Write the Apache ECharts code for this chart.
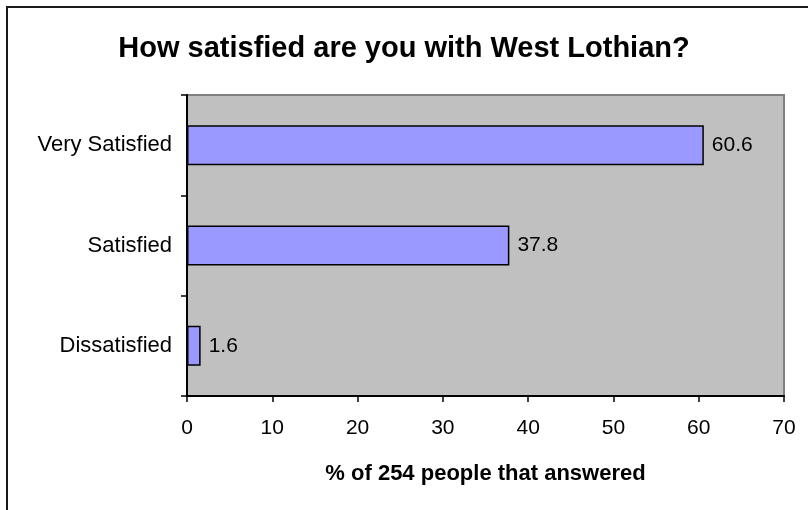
<!DOCTYPE html>
<html>
<head>
<meta charset="utf-8">
<script src="https://cdn.jsdelivr.net/npm/echarts@6/dist/echarts.min.js"></script>
<style>
  html, body { margin: 0; padding: 0; background: #fff; }
  #chart { width: 808px; height: 510px; }
</style>
</head>
<body>
<div id="chart"></div>
<script>
// Survey responses, listed top to bottom as shown on the chart
const categories = ['Very Satisfied', 'Satisfied', 'Dissatisfied'];
const percentages = [60.6, 37.8, 1.6];
const xTicks = { min: 0, max: 70, step: 10 };

const chart = echarts.init(document.getElementById('chart'), null, { renderer: 'canvas' });
const FONT = '"Liberation Sans", Arial, sans-serif';

chart.setOption({
  backgroundColor: '#ffffff',
  animation: false,
  title: {
    text: 'How satisfied are you with West Lothian?',
    left: 'center',
    top: 34,
    padding: 0,
    textStyle: { fontFamily: FONT, fontSize: 29, fontWeight: 'bold', color: '#000' }
  },
  graphic: [{
    type: 'rect',
    silent: true,
    shape: { x: 7, y: 7, width: 900, height: 600 },
    style: { fill: 'none', stroke: '#1a1a1a', lineWidth: 2 }
  }],
  grid: {
    left: 187, top: 95, width: 597, height: 301,
    show: true,
    backgroundColor: '#C0C0C0',
    borderColor: '#808080',
    borderWidth: 2
  },
  xAxis: {
    type: 'value',
    min: xTicks.min,
    max: xTicks.max,
    interval: xTicks.step,
    splitLine: { show: false },
    axisLine: { show: true, lineStyle: { color: '#000', width: 2 } },
    axisTick: { show: true, length: 6, lineStyle: { color: '#000', width: 1.5 } },
    axisLabel: { fontFamily: FONT, fontSize: 21, color: '#000', margin: 22 },
    name: '% of 254 people that answered',
    nameLocation: 'middle',
    nameGap: 67,
    nameTextStyle: { fontFamily: FONT, fontSize: 22, fontWeight: 'bold', color: '#000' }
  },
  yAxis: {
    type: 'category',
    data: categories,
    inverse: true,
    axisLine: { show: true, lineStyle: { color: '#000', width: 2 } },
    axisTick: { show: true, length: 6, lineStyle: { color: '#000', width: 1.5 } },
    axisLabel: { fontFamily: FONT, fontSize: 22, color: '#000', margin: 15 },
    splitLine: { show: false }
  },
  series: [{
    type: 'bar',
    data: percentages,
    barWidth: 40,
    itemStyle: { color: '#9999FF', borderColor: '#000', borderWidth: 1.5 },
    label: {
      show: true,
      position: 'right',
      distance: 8,
      fontFamily: FONT,
      fontSize: 21,
      color: '#000',
      formatter: p => p.value.toFixed(1)
    }
  }]
});
</script>
</body>
</html>
